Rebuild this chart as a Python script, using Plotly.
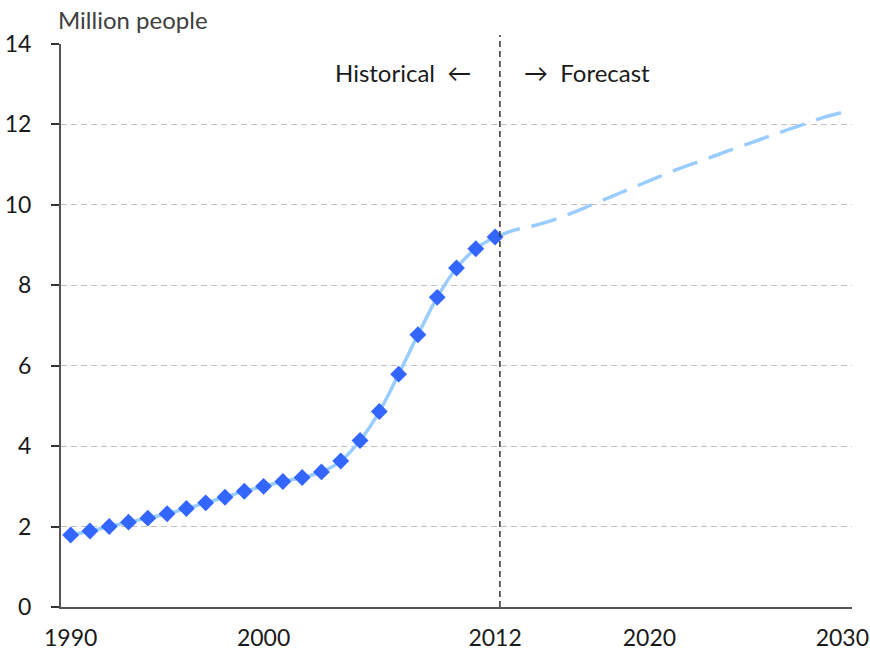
import plotly.graph_objects as go

hist_years = list(range(1990, 2013))
hist_values = [1.79, 1.89, 2.0, 2.11, 2.21, 2.32, 2.45, 2.59, 2.73, 2.88, 3.0, 3.12,
               3.22, 3.36, 3.63, 4.14, 4.86, 5.79, 6.77, 7.70, 8.43, 8.91, 9.20]
fc_years = list(range(2012, 2031))
fc_values = [9.20, 9.37, 9.48, 9.62, 9.80, 10.0, 10.2, 10.4, 10.6, 10.8, 10.98,
             11.15, 11.33, 11.5, 11.67, 11.84, 12.0, 12.17, 12.3]
x_ticks = [1990, 2000, 2012, 2020, 2030]
y_ticks = [0, 2, 4, 6, 8, 10, 12, 14]

FONT = "Lato"
fig = go.Figure()
fig.add_trace(go.Scatter(x=fc_years, y=fc_values, mode="lines",
                         line=dict(color="#99ccff", width=3.5, dash="26px,12px", shape="spline"),
                         showlegend=False))
fig.add_trace(go.Scatter(x=hist_years, y=hist_values, mode="lines",
                         line=dict(color="#99ccff", width=3.5, shape="spline"),
                         showlegend=False))
fig.add_trace(go.Scatter(x=hist_years, y=hist_values, mode="markers",
                         marker=dict(symbol="diamond", size=13, color="#3366ff",
                                     line=dict(width=0)),
                         showlegend=False))

fig.add_shape(type="line", x0=2012.25, x1=2012.25, xref="x", yref="paper", y0=0, y1=1.016,
              line=dict(color="#333333", width=1.5, dash="6px,4px"))

fig.add_annotation(text="Historical  \u2190", x=2010.85, xref="x", y=13.3, yref="y",
                   xanchor="right", yanchor="middle", showarrow=False,
                   font=dict(family=FONT, size=24, color="#1a1a1a"))
fig.add_annotation(text="\u2192  Forecast", x=2013.4, xref="x", y=13.3, yref="y",
                   xanchor="left", yanchor="middle", showarrow=False,
                   font=dict(family=FONT, size=24, color="#1a1a1a"))
fig.add_annotation(text="Million people", x=-0.006, xref="paper", y=1.043, yref="paper",
                   xanchor="left", yanchor="middle", showarrow=False,
                   font=dict(family=FONT, size=24, color="#404040"))

fig.update_layout(
    width=870, height=655,
    margin=dict(l=61, r=18, t=44, b=48),
    plot_bgcolor="white", paper_bgcolor="white",
    font=dict(family=FONT, size=23, color="#1a1a1a"),
    xaxis=dict(range=[1989.5, 2030.5], tickvals=x_ticks, ticktext=[str(v) for v in x_ticks],
               showgrid=False, zeroline=False, showline=True, linecolor="#555555",
               linewidth=1.5, ticks="", ticklen=0, automargin=False, ticklabelstandoff=10),
    yaxis=dict(range=[0, 14], tickvals=y_ticks,
               ticktext=[str(v) + "\u2002\u2006" for v in y_ticks],
               showgrid=True, gridcolor="#c0c0c0",
               griddash="6px,4px", gridwidth=1, zeroline=False, showline=True,
               linecolor="#555555", linewidth=1.5, ticks="outside", ticklen=8,
               tickcolor="#333333", tickwidth=1.5, automargin=False),
)
fig.write_html("out.html")
